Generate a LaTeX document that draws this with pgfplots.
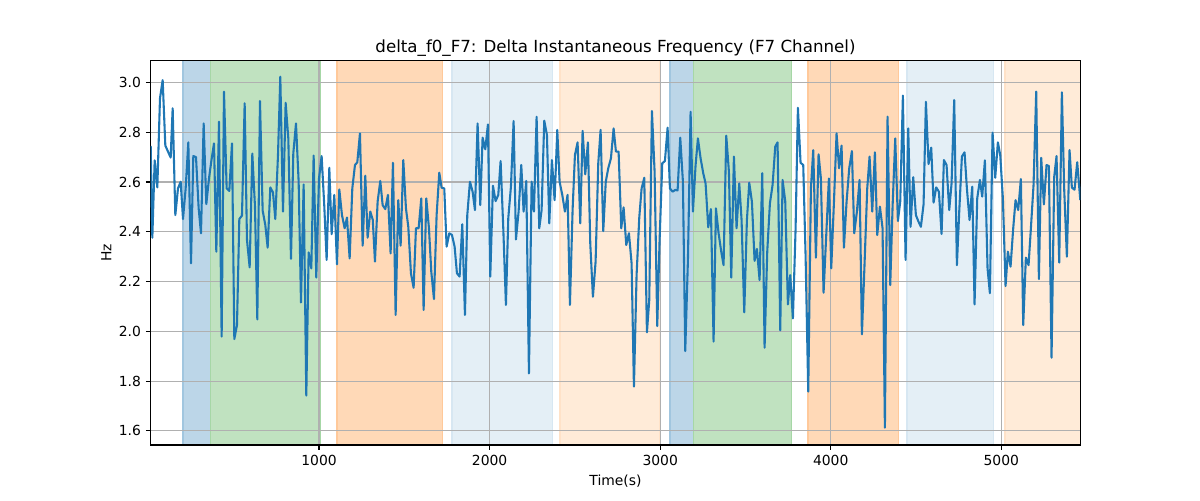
\documentclass[border=0pt]{standalone}
\usepackage{fontspec}
\setmainfont{DejaVu Sans}
\usepackage{pgfplots}
\pgfplotsset{compat=1.18}
\definecolor{tabblue}{HTML}{1F77B4}
\definecolor{tabgreen}{HTML}{2CA02C}
\definecolor{taborange}{HTML}{FF7F0E}
\definecolor{gridgray}{HTML}{B0B0B0}
\pgfplotsset{band/.style 2 args={on layer=axis background, fill=#1, draw=#2, line width=1pt, mark=none}}
\begin{document}
\begin{tikzpicture}
\begin{axis}[
  set layers,
  at={(0,0)}, anchor=south west,
  width=669.3pt, height=276.7pt, scale only axis,
  xmin=13, xmax=5463, ymin=1.5435, ymax=3.087,
  xtick={1000,2000,3000,4000,5000},
  ytick={1.6,1.8,2.0,2.2,2.4,2.6,2.8,3.0},
  xtick pos=bottom, ytick pos=left,
  tick align=outside, major tick length=3.5pt,
  every tick/.style={black, line width=0.8pt},
  axis line style={black, line width=0.8pt},
  grid=major, grid style={gridgray, line width=0.8pt},
  /pgf/number format/assume math mode=true,
  ticklabel style={font=\fontsize{10}{12}\selectfont},
  xticklabel style={/pgf/number format/1000 sep={}},
  yticklabel style={/pgf/number format/.cd, fixed, fixed zerofill, precision=1},
  title={delta\_f0\_F7: Delta Instantaneous Frequency (F7 Channel)},
  title style={at={(0.5,1)}, anchor=base, yshift=0.2pt, font=\fontsize{12}{14}\selectfont},
  xlabel={Time(s)},
  xlabel style={at={(0.5,0)}, anchor=base, yshift=-29.5pt, font=\fontsize{10}{12}\selectfont},
  ylabel={Hz},
  ylabel style={at={(0,0.5)}, rotate=0, anchor=center, yshift=32pt, font=\fontsize{10}{12}\selectfont},
]
% shaded intervals
\addplot[band={tabblue!30}{tabblue!42}] coordinates {(202,1.5435) (202,3.087) (363,3.087) (363,1.5435) (202,1.5435)};
\addplot[band={tabgreen!30}{tabgreen!42}] coordinates {(363,1.5435) (363,3.087) (1005,3.087) (1005,1.5435) (363,1.5435)};
\addplot[band={taborange!30}{taborange!42}] coordinates {(1105,1.5435) (1105,3.087) (1724,3.087) (1724,1.5435) (1105,1.5435)};
\addplot[band={tabblue!12}{tabblue!18}] coordinates {(1779,1.5435) (1779,3.087) (2369,3.087) (2369,1.5435) (1779,1.5435)};
\addplot[band={taborange!16}{taborange!23}] coordinates {(2412,1.5435) (2412,3.087) (2998,3.087) (2998,1.5435) (2412,1.5435)};
\addplot[band={tabblue!30}{tabblue!42}] coordinates {(3057,1.5435) (3057,3.087) (3194,3.087) (3194,1.5435) (3057,1.5435)};
\addplot[band={tabgreen!30}{tabgreen!42}] coordinates {(3194,1.5435) (3194,3.087) (3770,3.087) (3770,1.5435) (3194,1.5435)};
\addplot[band={taborange!30}{taborange!42}] coordinates {(3866,1.5435) (3866,3.087) (4398,3.087) (4398,1.5435) (3866,1.5435)};
\addplot[band={tabblue!12}{tabblue!18}] coordinates {(4446,1.5435) (4446,3.087) (4954,3.087) (4954,1.5435) (4446,1.5435)};
\addplot[band={taborange!16}{taborange!23}] coordinates {(5021,1.5435) (5021,3.087) (5463,3.087) (5463,1.5435) (5021,1.5435)};
% signal
\addplot[tabblue, line width=1.5pt, line join=round, mark=none] table {
x y
13 2.745
22.6 2.376
36.3 2.687
51.9 2.578
67.5 2.936
83.2 3.009
98.8 2.746
114.4 2.722
130.1 2.698
141.8 2.896
157.4 2.467
173.1 2.574
188.7 2.601
202.4 2.451
218.0 2.574
233.6 2.759
249.3 2.273
262.9 2.704
278.6 2.700
294.2 2.494
307.9 2.394
323.5 2.835
339.1 2.511
354.8 2.614
368.5 2.684
384.1 2.755
397.8 2.320
413.4 2.842
429.0 1.979
442.7 2.963
458.3 2.574
474.0 2.564
489.6 2.755
503.3 1.969
518.9 2.025
532.6 2.451
548.2 2.465
563.9 2.916
577.5 2.367
593.2 2.257
608.8 2.714
624.4 2.501
638.1 2.048
653.7 2.925
669.4 2.485
685.0 2.427
698.7 2.336
714.3 2.578
729.9 2.558
743.6 2.451
759.3 2.708
772.9 3.023
788.6 2.481
804.2 2.918
819.8 2.775
835.5 2.291
849.1 2.715
864.8 2.835
880.4 2.601
894.1 2.116
909.7 2.590
925.3 1.742
939.0 2.317
954.7 2.253
968.3 2.706
983.9 2.216
999.6 2.614
1015.2 2.704
1030.9 2.501
1044.5 2.287
1060.2 2.657
1073.9 2.390
1089.5 2.548
1105.1 2.269
1118.8 2.570
1134.4 2.467
1150.1 2.414
1163.7 2.457
1179.4 2.293
1195.0 2.574
1210.6 2.668
1224.3 2.679
1239.9 2.795
1255.6 2.344
1271.2 2.625
1284.8 2.376
1300.5 2.481
1315.0 2.448
1327.8 2.280
1343.4 2.521
1359.1 2.604
1372.8 2.507
1388.4 2.491
1404.0 2.548
1419.6 2.313
1433.3 2.677
1449.0 2.066
1464.6 2.527
1478.3 2.344
1493.9 2.688
1509.5 2.494
1523.2 2.420
1538.8 2.233
1554.5 2.175
1568.2 2.414
1583.8 2.414
1599.4 2.534
1613.1 2.086
1628.7 2.534
1644.4 2.414
1658.0 2.240
1673.7 2.130
1689.3 2.467
1704.9 2.637
1718.6 2.577
1734.2 2.574
1747.9 2.340
1763.6 2.394
1779.2 2.387
1794.8 2.340
1808.5 2.233
1824.1 2.220
1839.8 2.430
1855.4 2.066
1869.1 2.467
1884.7 2.601
1900.3 2.561
1914.0 2.487
1929.6 2.835
1945.3 2.507
1958.9 2.778
1974.6 2.731
1990.2 2.831
2003.9 2.220
2019.5 2.585
2035.2 2.523
2050.8 2.548
2064.5 2.684
2080.1 2.414
2095.7 2.106
2109.4 2.454
2125.0 2.581
2140.7 2.845
2154.4 2.369
2170.0 2.481
2185.6 2.668
2199.3 2.481
2214.9 2.604
2230.6 1.831
2246.2 2.601
2259.9 2.481
2275.5 2.862
2291.1 2.414
2304.8 2.487
2320.4 2.846
2336.1 2.789
2349.8 2.434
2365.4 2.688
2381.0 2.527
2396.7 2.809
2410.3 2.601
2426.0 2.548
2441.6 2.481
2457.2 2.548
2470.9 2.106
2486.5 2.487
2500.2 2.708
2515.8 2.759
2531.5 2.434
2545.2 2.805
2560.8 2.631
2576.4 2.759
2590.1 2.353
2605.7 2.139
2621.4 2.280
2637.0 2.675
2650.7 2.809
2666.3 2.403
2681.0 2.601
2695.6 2.655
2711.3 2.695
2726.9 2.815
2740.6 2.722
2756.2 2.722
2771.9 2.414
2785.5 2.498
2801.2 2.347
2816.8 2.394
2832.4 2.273
2846.1 1.778
2861.7 2.226
2877.4 2.457
2891.1 2.574
2906.7 2.617
2922.3 1.996
2936.0 2.126
2951.6 2.885
2967.3 2.641
2982.9 2.021
2996.6 2.367
3012.2 2.675
3027.8 2.684
3043.5 2.818
3057.1 2.574
3072.8 2.561
3088.4 2.568
3102.1 2.566
3117.7 2.778
3133.3 2.601
3147.0 1.921
3162.7 2.287
3178.3 2.882
3192.0 2.481
3207.6 2.668
3221.3 2.775
3236.9 2.695
3252.5 2.635
3266.2 2.594
3281.8 2.418
3297.5 2.491
3313.1 1.959
3326.8 2.494
3342.4 2.394
3358.1 2.320
3371.7 2.266
3387.4 2.786
3403.0 2.641
3416.7 2.216
3432.3 2.702
3447.9 2.414
3463.6 2.594
3477.2 2.447
3492.9 2.076
3508.5 2.447
3522.2 2.597
3537.8 2.521
3553.5 2.283
3567.1 2.331
3582.8 2.206
3598.4 2.635
3612.1 1.934
3627.7 2.320
3643.3 2.514
3659.0 2.588
3674.6 2.742
3688.3 2.759
3703.9 2.004
3717.6 2.608
3733.2 2.523
3748.9 2.108
3762.5 2.226
3778.2 2.052
3793.8 2.410
3807.5 2.898
3823.1 2.677
3838.7 2.668
3852.4 2.307
3868.1 1.758
3883.7 2.574
3897.4 2.728
3913.0 2.296
3928.6 2.711
3942.3 2.614
3957.9 2.155
3973.6 2.387
3989.2 2.614
4002.9 2.253
4018.5 2.514
4034.1 2.795
4048.9 2.655
4063.5 2.746
4077.2 2.336
4092.8 2.521
4108.4 2.655
4124.1 2.724
4137.7 2.394
4153.4 2.481
4169.0 2.608
4182.7 1.988
4198.3 2.273
4213.9 2.574
4227.6 2.702
4243.3 2.481
4258.9 2.719
4272.6 2.387
4288.2 2.501
4303.8 2.414
4317.5 1.613
4333.1 2.862
4348.8 2.186
4362.5 2.501
4378.1 2.775
4393.7 2.443
4407.4 2.521
4423.0 2.947
4438.7 2.287
4454.3 2.815
4468.0 2.420
4483.6 2.619
4499.2 2.467
4512.9 2.443
4528.5 2.420
4544.2 2.510
4557.9 2.922
4573.5 2.672
4589.1 2.738
4602.8 2.517
4618.4 2.578
4634.1 2.561
4649.7 2.391
4663.4 2.688
4679.0 2.668
4694.6 2.487
4708.3 2.594
4723.9 2.929
4739.6 2.266
4753.3 2.481
4768.9 2.702
4784.5 2.719
4798.2 2.574
4813.8 2.447
4829.5 2.581
4843.1 2.108
4858.8 2.534
4874.4 2.608
4888.1 2.541
4903.7 2.687
4919.3 2.253
4933.0 2.153
4948.7 2.798
4964.3 2.617
4979.9 2.759
4993.6 2.708
5009.2 2.534
5024.9 2.182
5038.5 2.320
5054.2 2.260
5069.8 2.414
5083.5 2.527
5099.1 2.487
5114.7 2.612
5128.4 2.025
5144.0 2.296
5159.7 2.266
5173.4 2.414
5189.0 2.588
5204.6 2.963
5220.3 2.210
5233.9 2.697
5249.6 2.510
5265.2 2.668
5278.9 2.664
5294.5 1.894
5310.2 2.621
5323.8 2.704
5339.5 2.276
5355.1 2.960
5368.8 2.568
5384.4 2.300
5400.0 2.728
5413.7 2.577
5429.3 2.569
5445.0 2.679
5463.0 2.527
};
\end{axis}
\path (-108.5pt,-39.6pt) rectangle (755.5pt,320.4pt);
\end{tikzpicture}
\end{document}
